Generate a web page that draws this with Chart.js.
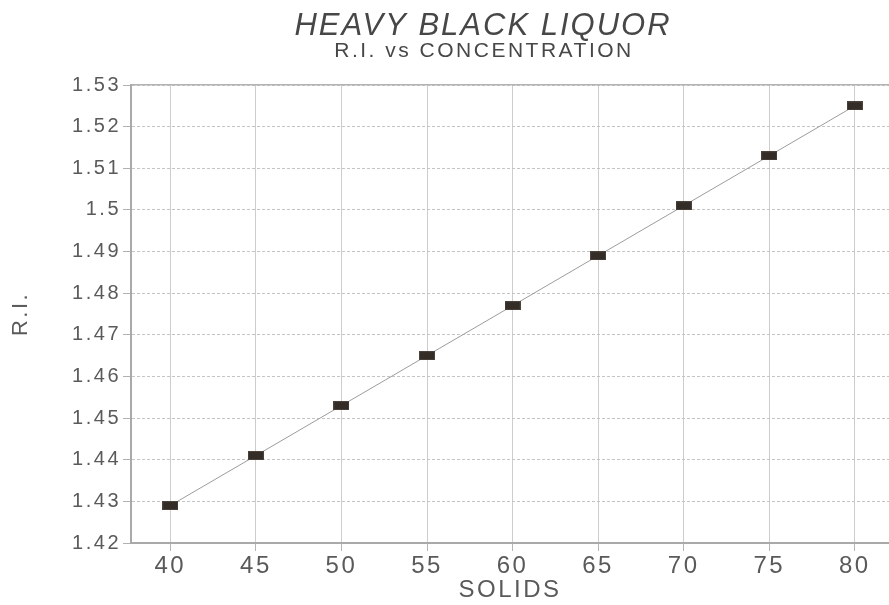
<!DOCTYPE html>
<html>
<head>
<meta charset="utf-8">
<script src="https://cdn.jsdelivr.net/npm/chart.js@4"></script>
<style>
  html, body { margin: 0; padding: 0; background: #ffffff; }
  canvas { display: block; }
</style>
</head>
<body>
<canvas id="c" width="889" height="605"></canvas>
<script>
// ---- data ----
const solids = [40, 45, 50, 55, 60, 65, 70, 75, 80];
const refractiveIndex = [1.429, 1.441, 1.453, 1.465, 1.477, 1.489, 1.501, 1.513, 1.525];
const xTickValues = [40, 45, 50, 55, 60, 65, 70, 75, 80];
const yTickValues = [1.42, 1.43, 1.44, 1.45, 1.46, 1.47, 1.48, 1.49, 1.50, 1.51, 1.52, 1.53];
const titleText = 'HEAVY BLACK LIQUOR';
const subtitleText = 'R.I. vs CONCENTRATION';
const xTitle = 'SOLIDS';
const yTitle = 'R.I.';

// rectangular marker
const marker = document.createElement('canvas');
marker.width = 16; marker.height = 9;
(function () {
  const m = marker.getContext('2d');
  m.fillStyle = '#4a423b';
  m.fillRect(0, 0, 16, 9);
  m.fillStyle = '#332c27';
  m.fillRect(1, 1, 14, 7);
})();

const FONT = '"Liberation Sans", Arial, Helvetica, sans-serif';

const spacingPlugin = {
  id: 'spacing',
  beforeUpdate(chart) { chart.ctx.letterSpacing = '2.5px'; },
  beforeDraw(chart) { chart.ctx.letterSpacing = '2.5px'; }
};

const titlePlugin = {
  id: 'titles',
  afterDraw(chart) {
    const ctx = chart.ctx;
    ctx.save();
    ctx.textAlign = 'center';
    ctx.textBaseline = 'alphabetic';
    ctx.fillStyle = '#474747';
    ctx.letterSpacing = '2px';
    ctx.font = 'italic 31px ' + FONT;
    ctx.fillText(titleText, 483, 35);
    ctx.letterSpacing = '2.5px';
    ctx.font = '21px ' + FONT;
    ctx.fillText(subtitleText, 484, 57);
    ctx.restore();
  }
};

const noPad = s => { s.paddingLeft = 0; s.paddingRight = 0; };

new Chart(document.getElementById('c'), {
  type: 'scatter',
  data: {
    datasets: [{
      data: solids.map((s, i) => ({ x: s, y: refractiveIndex[i] })),
      showLine: true,
      borderColor: '#9c9c9c',
      borderWidth: 1,
      pointStyle: marker,
      pointRadius: 8,
      pointHoverRadius: 8,
      backgroundColor: '#3f3731'
    }]
  },
  plugins: [spacingPlugin, titlePlugin],
  options: {
    responsive: false,
    animation: false,
    events: [],
    layout: { autoPadding: false, padding: { top: 85, right: 0, bottom: 0, left: 0 } },
    plugins: { legend: { display: false }, tooltip: { enabled: false }, title: { display: false } },
    scales: {
      x: {
        type: 'linear',
        position: 'bottom',
        min: 37.7,
        max: 82,
        afterBuildTicks: s => { s.ticks = xTickValues.map(v => ({ value: v })); },
        afterFit: s => { s.height = 62; noPad(s); },
        grid: { color: '#cdcdcd', lineWidth: 1, tickLength: 8, tickColor: '#b5b5b5' },
        border: { color: '#a9a9a9', width: 2 },
        ticks: { color: '#5a5a5a', font: { family: FONT, size: 24 }, padding: 1, maxRotation: 0 },
        title: { display: true, text: xTitle, color: '#5a5a5a', font: { family: FONT, size: 24 }, padding: { top: 0, bottom: 0 } }
      },
      x2: {
        type: 'linear',
        position: 'top',
        display: true,
        afterFit: s => { s.height = 0; noPad(s); },
        grid: { display: false, drawTicks: false },
        ticks: { display: false },
        border: { color: '#b3b3b3', width: 1.5 }
      },
      y: {
        type: 'linear',
        min: 1.42,
        max: 1.53,
        afterBuildTicks: s => { s.ticks = yTickValues.map(v => ({ value: v })); },
        afterFit: s => { s.width = 131; },
        grid: { color: '#c4c4c4', lineWidth: 1, tickLength: 8, tickColor: '#b0b0b0' },
        border: { color: '#a9a9a9', width: 2, dash: [3, 2] },
        ticks: {
          color: '#5a5a5a',
          font: { family: FONT, size: 20 },
          padding: 2,
          callback: v => String(parseFloat(Number(v).toFixed(2)))
        },
        title: { display: true, text: yTitle, color: '#5a5a5a', font: { family: FONT, size: 22 }, padding: { top: 8, bottom: 0 } }
      }
    }
  }
});
</script>
</body>
</html>
